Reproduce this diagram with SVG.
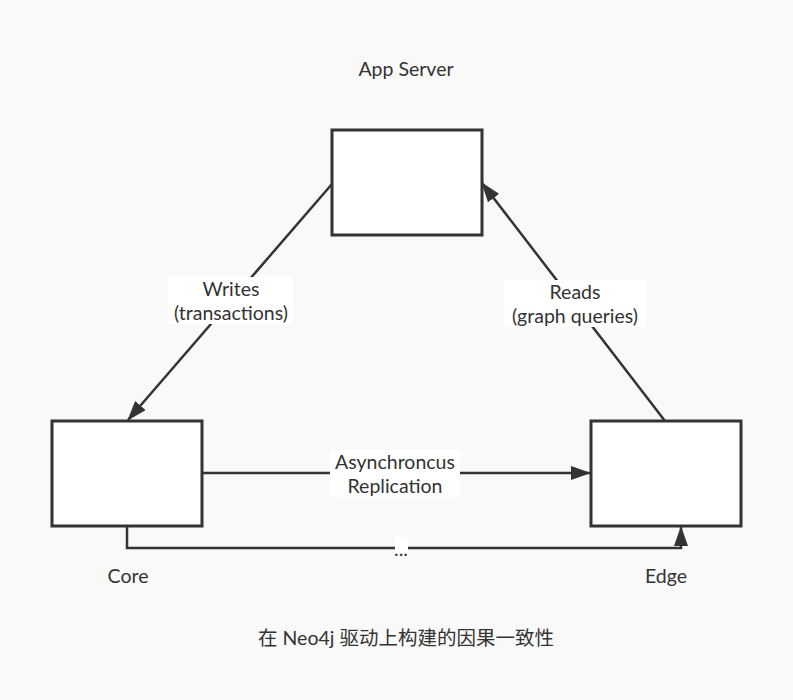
<svg xmlns="http://www.w3.org/2000/svg" width="793" height="700" viewBox="0 0 793 700">
<defs>
<marker id="arr" viewBox="0 0 20 14" refX="19" refY="7" markerWidth="20" markerHeight="14" markerUnits="userSpaceOnUse" orient="auto">
<path d="M0,0 L20,7 L0,14 Z" fill="#333"/>
</marker>
<style>
.edge{fill:none;stroke:#333;stroke-width:2.5}
.box{fill:#fff;stroke:#333;stroke-width:3}
.t{font-family:Lato,"Noto Sans CJK SC",sans-serif;font-size:19.5px;fill:#333;text-anchor:middle}
.lbg{fill:#fff}
</style>
</defs>
<rect x="0" y="0" width="793" height="700" fill="#f9f9f9"/>
<g id="connectors">
<path class="edge" d="M332,184 L128,420" marker-end="url(#arr)"/>
<path class="edge" d="M665,421 L482,183" marker-end="url(#arr)"/>
<path class="edge" d="M203,473 L590,473" marker-end="url(#arr)"/>
<path class="edge" d="M127,527 L127,548 L681,548 L681,527" marker-end="url(#arr)"/>
<rect class="lbg" x="168" y="277" width="125" height="47"/>
<text class="t" x="231" y="296">Writes</text>
<text class="t" x="231" y="320">(transactions)</text>
<rect class="lbg" x="504" y="280" width="142" height="47"/>
<text class="t" x="575" y="299">Reads</text>
<text class="t" x="575" y="323">(graph queries)</text>
<rect class="lbg" x="330" y="450" width="130" height="47"/>
<text class="t" x="395" y="469">Asynchroncus</text>
<text class="t" x="395" y="493">Replication</text>
<rect class="lbg" x="395" y="537" width="13" height="20"/>
<text class="t" x="401" y="556">...</text>
</g>
<g id="app-server">
<rect class="box" x="332" y="130" width="150" height="105"/>
<text class="t" x="406" y="76">App Server</text>
</g>
<g id="core">
<rect class="box" x="52" y="421" width="150" height="105"/>
<text class="t" x="128" y="583">Core</text>
</g>
<g id="edge">
<rect class="box" x="591" y="421" width="150" height="105"/>
<text class="t" x="666" y="583">Edge</text>
</g>
<g id="caption">
<text class="t" x="406" y="645">在 Neo4j 驱动上构建的因果一致性</text>
</g>
</svg>
